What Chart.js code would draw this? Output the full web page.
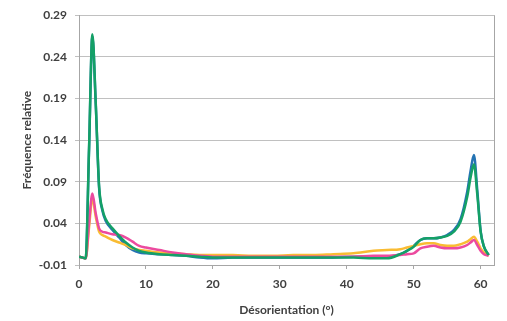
<!DOCTYPE html>
<html>
<head>
<meta charset="utf-8">
<script src="https://cdn.jsdelivr.net/npm/chart.js@4"></script>
<style>
  html, body { margin: 0; padding: 0; background: #fff; }
  #wrap { width: 507px; height: 321px; }
</style>
</head>
<body>
<div id="wrap"><canvas id="chart" width="507" height="321"></canvas></div>
<script>
// Désorientation (°) sample positions shared by all series
const angles = [0, 0.5, 1, 1.5, 2, 2.5, 3, 3.5, 4, 5, 6, 7, 8, 9, 10, 12, 14, 16, 18, 20,
  23, 26, 29, 32, 35, 38, 41, 44, 46, 48, 49, 50, 51, 52, 53, 54, 55, 56, 57, 58,
  58.5, 59, 59.5, 60, 60.5, 61.2];

// Fréquence relative, one array per curve
const greenValues = [0.000, -0.001, -0.002, 0.130, 0.267, 0.185, 0.085, 0.057, 0.045, 0.034, 0.025, 0.017, 0.011, 0.007, 0.005, 0.003, 0.002, 0.001, 0.000, -0.001,
  -0.001, -0.001, -0.001, -0.001, -0.001, -0.001, -0.001, -0.002, -0.002, 0.003, 0.007, 0.012, 0.020, 0.022, 0.022, 0.023, 0.025, 0.030, 0.042, 0.072,
  0.095, 0.111, 0.075, 0.030, 0.012, 0.002];
const blueValues = [0.000, -0.001, -0.002, 0.128, 0.265, 0.183, 0.083, 0.055, 0.043, 0.032, 0.023, 0.014, 0.008, 0.005, 0.004, 0.003, 0.002, 0.001, -0.001, -0.002,
  -0.001, -0.001, -0.001, -0.001, -0.001, -0.001, 0.000, 0.000, 0.000, 0.003, 0.007, 0.013, 0.020, 0.022, 0.022, 0.023, 0.026, 0.032, 0.045, 0.078,
  0.103, 0.122, 0.080, 0.031, 0.012, 0.002];
const yellowValues = [0.000, -0.001, -0.002, 0.035, 0.070, 0.048, 0.030, 0.026, 0.024, 0.020, 0.017, 0.014, 0.010, 0.008, 0.007, 0.005, 0.004, 0.003, 0.002, 0.002,
  0.002, 0.001, 0.001, 0.002, 0.002, 0.003, 0.004, 0.007, 0.008, 0.009, 0.011, 0.013, 0.015, 0.016, 0.016, 0.014, 0.013, 0.013, 0.015, 0.018,
  0.021, 0.024, 0.018, 0.010, 0.005, 0.001];
const pinkValues = [0.000, -0.001, -0.002, 0.040, 0.076, 0.052, 0.034, 0.030, 0.029, 0.027, 0.026, 0.023, 0.018, 0.013, 0.011, 0.008, 0.005, 0.003, 0.001, 0.000,
  0.000, 0.000, 0.000, 0.000, 0.000, 0.000, 0.000, 0.001, 0.001, 0.002, 0.003, 0.004, 0.010, 0.012, 0.013, 0.011, 0.010, 0.010, 0.011, 0.014,
  0.017, 0.020, 0.014, 0.007, 0.003, 0.001];

// Axis tick labels
const xTicks = [0, 10, 20, 30, 40, 50, 60];
const yTicks = [-0.01, 0.04, 0.09, 0.14, 0.19, 0.24, 0.29];

function toPoints(values) {
    return values.map((v, i) => ({ x: angles[i], y: v }));
}

function makeSeries(values, color) {
    return {
        data: toPoints(values),
        borderColor: color,
        backgroundColor: color,
        borderWidth: 2.5,
        pointRadius: 0,
        showLine: true,
        fill: false,
        cubicInterpolationMode: 'monotone'
    };
}

// Draw a thin grey line on the right edge of the plot area
const frame = {
    id: 'frame',
    afterDatasetsDraw(chart) {
        const a = chart.chartArea;
        const ctx = chart.ctx;
        ctx.save();
        ctx.strokeStyle = '#a6a6a6';
        ctx.lineWidth = 1;
        ctx.beginPath();
        ctx.moveTo(Math.round(a.right) + 0.5, a.top);
        ctx.lineTo(Math.round(a.right) + 0.5, a.bottom);
        ctx.stroke();
        ctx.restore();
    }
};

const tickFont = { family: 'Lato', size: 12, weight: 'bold' };
const titleFont = { family: 'Lato', size: 12, weight: 'bold' };

new Chart(document.getElementById('chart'), {
    type: 'scatter',
    data: {
        datasets: [
            makeSeries(greenValues, '#14a066'),
            makeSeries(pinkValues, '#ec4a9f'),
            makeSeries(yellowValues, '#f9bc33'),
            makeSeries(blueValues, '#2473b3')
        ]
    },
    options: {
        responsive: false,
        animation: false,
        layout: { padding: { left: 16, top: 12, right: 13, bottom: 0 } },
        plugins: { legend: { display: false }, tooltip: { enabled: false } },
        scales: {
            x: {
                type: 'linear',
                min: 0,
                max: 62,
                afterBuildTicks: scale => { scale.ticks = xTicks.map(v => ({ value: v })); },
                afterFit: scale => { scale.height = 56; },
                grid: { drawOnChartArea: false, color: '#a6a6a6', tickLength: 4 },
                border: { color: '#a6a6a6' },
                ticks: { font: tickFont, color: '#404040', padding: 8, maxRotation: 0 },
                title: { display: true, text: 'Désorientation (°)', font: titleFont, color: '#404040', padding: { top: 5 } }
            },
            y: {
                type: 'linear',
                min: -0.01,
                max: 0.29,
                afterBuildTicks: scale => { scale.ticks = yTicks.map(v => ({ value: v })); },
                afterFit: scale => { scale.width = 63; },
                grid: { color: '#c0c0c0', tickLength: 4 },
                border: { color: '#a6a6a6' },
                ticks: { font: tickFont, color: '#404040', padding: 8, callback: v => v.toFixed(2) },
                title: { display: true, text: 'Fréquence relative', font: titleFont, color: '#404040', padding: { bottom: 0 } }
            }
        }
    },
    plugins: [frame]
});
</script>
</body>
</html>
